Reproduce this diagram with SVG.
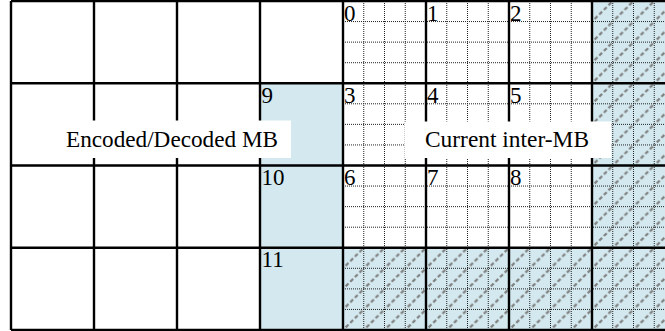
<svg xmlns="http://www.w3.org/2000/svg" width="665" height="331" viewBox="0 0 665 331">
  <style>
    .blue { fill: #d3e9ef; }
    .thick { stroke: #000; stroke-width: 2.4; fill: none; }
    .dot { stroke: #222; stroke-width: 1; stroke-dasharray: 1 1; fill: none; }
    .num { font-family: "Liberation Serif", "Times New Roman", serif; font-size: 23px; fill: #000; }
    .lbl { font-family: "Liberation Serif", "Times New Roman", serif; font-size: 23px; fill: #000; }
    .box { fill: #fff; }
  </style>
  <defs>
    <pattern id="hatch" patternUnits="userSpaceOnUse" x="343" y="1" width="20.75" height="20.5625">
      <path d="M-2,22.6 L22.75,-1.9" stroke="#7f7f7f" stroke-width="2.2" stroke-dasharray="4 2.5" fill="none"/>
    </pattern>
  </defs>
  <rect width="665" height="331" fill="#fff"/>

  <g id="decoded-region">
    <rect class="blue" x="260" y="83.25" width="83" height="246.75"/>
  </g>

  <g id="hatched-region">
    <rect class="blue" x="592" y="1" width="73" height="329"/>
    <rect class="blue" x="343" y="247.75" width="249" height="82.25"/>
    <rect fill="url(#hatch)" x="592" y="1" width="73" height="329"/>
    <rect fill="url(#hatch)" x="343" y="247.75" width="249" height="82.25"/>
  </g>

  <g id="subgrid">
    <path class="dot" d="M363.75,1V330 M384.5,1V330 M405.25,1V330 M446.75,1V330 M467.5,1V330 M488.25,1V330 M529.75,1V330 M550.5,1V330 M571.25,1V330 M612.75,1V330 M633.5,1V330 M654.25,1V330"/>
    <path class="dot" d="M343,21.56H665 M343,42.13H665 M343,62.69H665 M343,103.81H665 M343,124.38H665 M343,144.94H665 M343,186.06H665 M343,206.63H665 M343,227.19H665 M343,268.31H665 M343,288.88H665 M343,309.44H665"/>
  </g>

  <g id="grid">
    <path class="thick" d="M11,1V330 M94,1V330 M177,1V330 M260,1V330 M343,1V330 M426,1V330 M509,1V330 M592,1V330"/>
    <path class="thick" d="M11,1H665 M11,83.25H665 M11,165.5H665 M11,247.75H665 M11,330H665"/>
  </g>

  <g id="mb-numbers">
    <text class="num" x="344" y="20.5">0</text>
    <text class="num" x="427" y="20.5">1</text>
    <text class="num" x="510" y="20.5">2</text>
    <text class="num" x="344" y="103">3</text>
    <text class="num" x="427" y="103">4</text>
    <text class="num" x="510" y="103">5</text>
    <text class="num" x="344" y="185">6</text>
    <text class="num" x="427" y="185">7</text>
    <text class="num" x="510" y="185">8</text>
    <text class="num" x="261.5" y="103">9</text>
    <text class="num" x="261.5" y="185">10</text>
    <text class="num" x="261.5" y="267">11</text>
  </g>

  <g id="label-decoded">
    <rect class="box" x="52" y="120.5" width="239" height="37.5"/>
    <text class="lbl" x="172" y="147.3" text-anchor="middle" textLength="212" lengthAdjust="spacingAndGlyphs">Encoded/Decoded MB</text>
  </g>

  <g id="label-current">
    <rect class="box" x="405" y="121.5" width="206.5" height="36.5"/>
    <text class="lbl" x="507" y="147.3" text-anchor="middle" textLength="164" lengthAdjust="spacingAndGlyphs">Current inter-MB</text>
  </g>
</svg>
